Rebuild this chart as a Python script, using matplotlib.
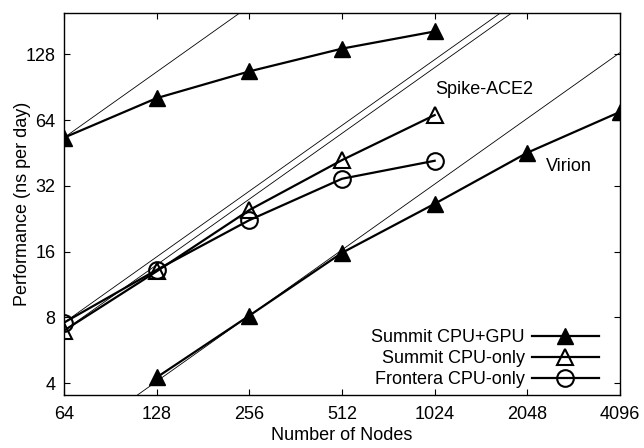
import numpy as np
import matplotlib
matplotlib.use("Agg")
import matplotlib.pyplot as plt
from matplotlib.ticker import FixedLocator, FixedFormatter, NullLocator

plt.rcParams['font.family'] = ['Liberation Sans', 'DejaVu Sans']

# Spike-ACE2 runs
spike_nodes = [64, 128, 256, 512, 1024]
spike_gpu = [53.2, 80.7, 107, 136, 163]
spike_summit_cpu = [6.96, 13.0, 24.8, 42, 67.5]
spike_frontera_cpu = [7.57, 13.2, 22.3, 34.5, 41.7]

# Virion runs
virion_nodes = [128, 256, 512, 1024, 2048, 4096]
virion_gpu = [4.25, 8.15, 15.8, 26.5, 45.4, 69.8]

x_ticks = [64, 128, 256, 512, 1024, 2048, 4096]
y_ticks = [4, 8, 16, 32, 64, 128]

FS = 13

fig = plt.figure(figsize=(6.44, 4.48), dpi=100)
ax = fig.add_axes([64 / 644, 1 - 395 / 448, (620 - 64) / 644, (395 - 13) / 448])

# ideal (linear) scaling lines
xx = np.array([32, 8192])
for base_n, base_v in [(spike_nodes[0], spike_gpu[0]),
                       (spike_nodes[0], spike_summit_cpu[0]),
                       (spike_nodes[0], spike_frontera_cpu[0]),
                       (virion_nodes[1], virion_gpu[1])]:
    ax.plot(xx, base_v * xx / base_n, color='black', lw=0.6, zorder=1)

kw = dict(color='black', lw=1.6, markersize=12, zorder=3)
ax.plot(spike_nodes, spike_gpu, marker='^', mfc='black', **kw)
ax.plot(spike_nodes, spike_summit_cpu, marker='^', mfc='none', mew=1.5, **kw)
ax.plot(spike_nodes, spike_frontera_cpu, marker='o', mfc='none', mew=1.5, **kw)
l1, = ax.plot(virion_nodes, virion_gpu, marker='^', mfc='black', **kw)
l2, = ax.plot([], [], marker='^', mfc='none', mew=1.5, **kw)
l3, = ax.plot([], [], marker='o', mfc='none', mew=1.5, **kw)

ax.set_xscale('log', base=2)
ax.set_yscale('log', base=2)
ax.set_xlim(64, 4096)
ax.set_ylim(3.53, 198)
ax.xaxis.set_major_locator(FixedLocator(x_ticks))
ax.xaxis.set_major_formatter(FixedFormatter([str(v) for v in x_ticks]))
ax.yaxis.set_major_locator(FixedLocator(y_ticks))
ax.yaxis.set_major_formatter(FixedFormatter([str(v) for v in y_ticks]))
ax.xaxis.set_minor_locator(NullLocator())
ax.yaxis.set_minor_locator(NullLocator())
ax.tick_params(direction='in', top=True, right=True, length=4, width=0.8,
               labelsize=FS, pad=6)
ax.tick_params(axis='x', pad=8)
for s in ax.spines.values():
    s.set_linewidth(1.0)

ax.set_xlabel('Number of Nodes', fontsize=FS, labelpad=3)
ax.set_ylabel('Performance (ns per day)', fontsize=FS, labelpad=-4)

ax.text(1486, 88.6, 'Spike-ACE2', fontsize=FS, ha='center', va='center')
ax.text(2800, 39.1, 'Virion', fontsize=FS, ha='center', va='center')

leg = ax.legend([l1, l2, l3], ['Summit CPU+GPU', 'Summit CPU-only', 'Frontera CPU-only'],
                loc='lower right', bbox_to_anchor=(0.962, 0.018),
                frameon=False, fontsize=FS, markerfirst=False,
                handlelength=3.7, handletextpad=0.4, labelspacing=0.22,
                borderaxespad=0, borderpad=0)
for t in leg.get_texts():
    t.set_ha('right')

fig.savefig('out.png', dpi=100)
